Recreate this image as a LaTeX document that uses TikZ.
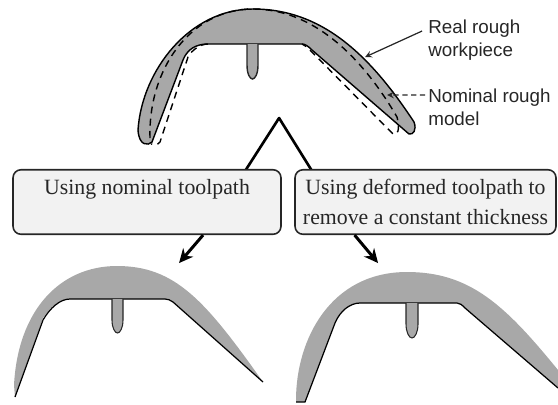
\documentclass[tikz,border=0pt]{standalone}
\usepackage{fontspec}
\setmainfont{Liberation Serif}
\newfontfamily\labelfont{Liberation Sans}
\usetikzlibrary{calc,arrows.meta}
\definecolor{partgray}{RGB}{168,168,168}
\definecolor{boxgray}{RGB}{242,242,242}
\definecolor{inkgray}{RGB}{38,38,38}
\tikzset{
	part/.style={fill=partgray,draw=none},
	rib/.style={fill=partgray,draw=inkgray,line width=0.6},
	callout/.style={draw=inkgray,line width=0.7},
	casebox/.style={draw=inkgray,fill=boxgray,rounded corners=4.5pt,line width=0.9,align=center,text=inkgray,
		minimum height=1.29cm,inner sep=0pt,font=\fontsize{12.4}{17}\selectfont},
	sidelabel/.style={anchor=west,align=left,inner sep=0pt,text=inkgray,font=\labelfont\fontsize{10.7}{13}\selectfont},
	bigarrow/.style={line width=1.7,-{Stealth[length=8pt,width=7.5pt]}},
}
\begin{document}
\begin{tikzpicture}[scale=0.02]
		\useasboundingbox (0,0) rectangle (558,-404);
		\coordinate (peak) at (279,-118);
		\coordinate (lfoot) at (245,-171);
		\coordinate (rfoot) at (312,-171);
		\coordinate (ltip) at (179,-263);
		\coordinate (rtip) at (378,-263);
		\coordinate (wtip) at (365,-57);
		\coordinate (mtip) at (387,-95);
		\draw[part,draw=black,line width=0.8] (138,-130) .. controls (142,-70) and (190,-9) .. (253,-9)
			.. controls (320,-9) and (368,-52) .. (414,-122)
			.. controls (417,-130) and (413,-135) .. (409,-134)
			-- (312,-50) .. controls (308,-46) and (305,-44) .. (302,-44)
			-- (208,-44) .. controls (195,-44) and (187,-50) .. (183,-60)
			-- (152,-142) .. controls (148,-146) and (139,-146) .. (138,-130);
		\draw[rib,line width=0.8] (247,-44) -- (247,-65) .. controls (247,-74) and (250,-79) .. (252.5,-79) .. controls (255,-79) and (258,-74) .. (258,-65) -- (258,-44);
		\draw[dashed,line width=0.8,dash pattern=on 4pt off 3pt] (150,-138) .. controls (148,-70) and (190,-9) .. (253,-9)
			.. controls (305,-9) and (355,-45) .. (397,-117)
			.. controls (399,-125) and (400,-135) .. (393,-134)
			-- (307,-47) -- (302,-44);
		\draw[dashed,line width=0.8,dash pattern=on 4pt off 3pt] (208,-44) .. controls (200,-44) and (192,-50) .. (188,-57)
			-- (160,-142) .. controls (158,-145) and (154,-145) .. (151,-144);
		\node[sidelabel] (wlabel) at (428,-40) {Real rough\\workpiece};
		\node[sidelabel] (mlabel) at (428,-107) {Nominal rough\\model};
		\draw[callout,-stealth] ($(wlabel.west)+(-6,9)$) -- (wtip);
		\draw[callout,dashed,dash pattern=on 3pt off 2pt,-stealth] ($(mlabel.west)+(-3,12)$) -- (mtip);
		\draw[line width=1.5,line join=round] (lfoot) -- (peak) -- (rfoot);
		\node[casebox,minimum width=5.36cm] (lbox) at (147,-202) {Using nominal toolpath\\\mbox{}};
		\node[casebox,minimum width=5.22cm] (rbox) at (425.5,-202) {Using deformed toolpath to\\remove a constant thickness};
		\draw[bigarrow] (lbox.south)++(56,0) -- (ltip);
		\draw[bigarrow] (rbox.south)++(-71,0) -- (rtip);
		\fill[part] (15,-397) -- (14,-385) .. controls (18,-310) and (60,-266) .. (117,-266)
			.. controls (175,-266) and (205,-300) .. (263,-382)
			-- (173,-302) .. controls (170,-300) and (168,-299) .. (165,-299)
			-- (70,-299) .. controls (60,-299) and (52,-305) .. (43,-318) -- cycle;
		\draw[line width=0.7] (263,-382) -- (173,-302) .. controls (170,-300) and (168,-299) .. (165,-299)
			-- (70,-299) .. controls (60,-299) and (50,-308) .. (43,-320) -- (15,-397);
		\draw[rib] (112,-299) -- (112,-320) .. controls (112,-328) and (115,-333) .. (117.5,-333) .. controls (120,-333) and (123,-328) .. (123,-320) -- (123,-299);
		\fill[part] (296,-402) -- (296,-400) .. controls (296,-340) and (330,-272) .. (407,-272)
			.. controls (470,-272) and (505,-305) .. (558,-370)
			-- (558,-388) -- (465,-308) .. controls (462,-305) and (460,-303) .. (457,-303)
			-- (360,-303) .. controls (350,-303) and (340,-311) .. (335,-323) -- (305,-402) -- cycle;
		\draw[line width=0.7] (558,-388) -- (465,-308) .. controls (462,-305) and (460,-303) .. (457,-303)
			-- (360,-303) .. controls (350,-303) and (340,-311) .. (335,-323) -- (305,-402) -- (296,-402);
		\draw[rib] (406,-303) -- (406,-324) .. controls (406,-332) and (409,-338) .. (412,-338) .. controls (415,-338) and (418,-332) .. (418,-324) -- (418,-303);
		\end{tikzpicture}
\end{document}
